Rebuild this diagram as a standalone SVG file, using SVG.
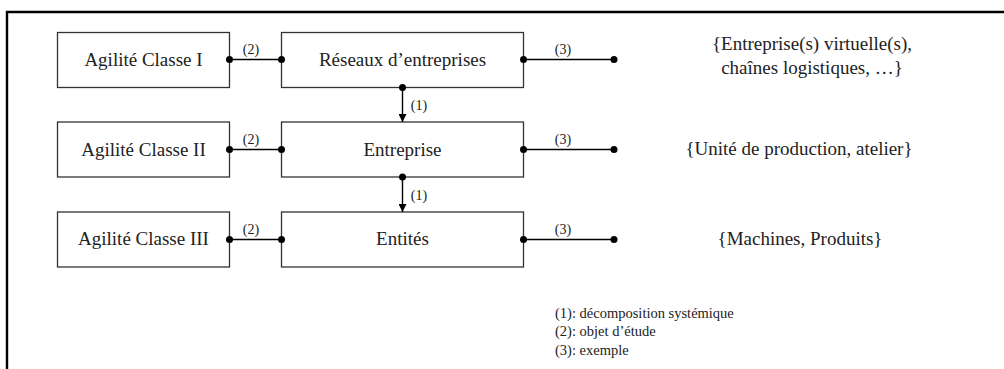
<svg xmlns="http://www.w3.org/2000/svg" width="1004" height="369" viewBox="0 0 1004 369">
<style>
.box{fill:#fff;stroke:#333;stroke-width:1.3}
.t{font-family:"Liberation Serif","Times New Roman",Times,"DejaVu Serif",serif;font-size:19px;fill:#222;text-anchor:middle}
.lbl{font-family:"Liberation Serif","Times New Roman",Times,"DejaVu Serif",serif;font-size:14px;fill:#222;text-anchor:middle}
.leg{font-family:"Liberation Serif","Times New Roman",Times,"DejaVu Serif",serif;font-size:14.5px;fill:#222}
.c{stroke:#000;stroke-width:1.4;fill:none}
.d{fill:#000}
</style>
<defs>
<marker id="ah" viewBox="0 0 8 8" refX="8" refY="4" markerWidth="8" markerHeight="8" markerUnits="userSpaceOnUse" orient="auto">
<path d="M0,0 L8,4 L0,8 z" fill="#000"/>
</marker>
</defs>
<path d="M7,369 V12 H1004" fill="none" stroke="#000" stroke-width="2.4"/>
<g id="n-agI"><rect class="box" x="57.5" y="32.5" width="172" height="55"/><text class="t" x="143.5" y="66">Agilité Classe I</text></g>
<g id="n-reseaux"><rect class="box" x="281.5" y="32.5" width="242" height="55"/><text class="t" x="402.5" y="66">Réseaux d’entreprises</text></g>
<g id="n-agII"><rect class="box" x="57.5" y="122" width="172" height="55"/><text class="t" x="143.5" y="156">Agilité Classe II</text></g>
<g id="n-entreprise"><rect class="box" x="281.5" y="122" width="242" height="55"/><text class="t" x="402.5" y="156">Entreprise</text></g>
<g id="n-agIII"><rect class="box" x="57.5" y="212" width="172" height="55"/><text class="t" x="143.5" y="245">Agilité Classe III</text></g>
<g id="n-entites"><rect class="box" x="281.5" y="212" width="242" height="55"/><text class="t" x="402.5" y="245">Entités</text></g>
<g id="ex1"><text class="t" x="812" y="50">{Entreprise(s) virtuelle(s),</text><text class="t" x="812" y="74">chaînes logistiques, …}</text></g>
<g id="ex2"><text class="t" x="799" y="155">{Unité de production, atelier}</text></g>
<g id="ex3"><text class="t" x="800" y="245">{Machines, Produits}</text></g>
<g id="connectors">
<line class="c" x1="229.5" y1="59.5" x2="281.5" y2="59.5"/>
<circle class="d" cx="229.5" cy="59.5" r="3.5"/><circle class="d" cx="281.5" cy="59.5" r="3.5"/>
<text class="lbl" x="251" y="54">(2)</text>
<line class="c" x1="229.5" y1="149.5" x2="281.5" y2="149.5"/>
<circle class="d" cx="229.5" cy="149.5" r="3.5"/><circle class="d" cx="281.5" cy="149.5" r="3.5"/>
<text class="lbl" x="251" y="144">(2)</text>
<line class="c" x1="229.5" y1="239.5" x2="281.5" y2="239.5"/>
<circle class="d" cx="229.5" cy="239.5" r="3.5"/><circle class="d" cx="281.5" cy="239.5" r="3.5"/>
<text class="lbl" x="251" y="234">(2)</text>
<line class="c" x1="523.5" y1="59.5" x2="614" y2="59.5"/>
<circle class="d" cx="523.5" cy="59.5" r="3.5"/><circle class="d" cx="614" cy="59.5" r="3.5"/>
<text class="lbl" x="563" y="54">(3)</text>
<line class="c" x1="523.5" y1="149.5" x2="614" y2="149.5"/>
<circle class="d" cx="523.5" cy="149.5" r="3.5"/><circle class="d" cx="614" cy="149.5" r="3.5"/>
<text class="lbl" x="563" y="144">(3)</text>
<line class="c" x1="523.5" y1="239.5" x2="614" y2="239.5"/>
<circle class="d" cx="523.5" cy="239.5" r="3.5"/><circle class="d" cx="614" cy="239.5" r="3.5"/>
<text class="lbl" x="563" y="234">(3)</text>
<line class="c" x1="402.5" y1="87.5" x2="402.5" y2="122" marker-end="url(#ah)"/>
<circle class="d" cx="402.5" cy="87.5" r="3.5"/>
<text class="lbl" x="419" y="110">(1)</text>
<line class="c" x1="402.5" y1="177" x2="402.5" y2="212" marker-end="url(#ah)"/>
<circle class="d" cx="402.5" cy="177" r="3.5"/>
<text class="lbl" x="419" y="200">(1)</text>
</g>
<g id="legend">
<text class="leg" x="555" y="318">(1): décomposition systémique</text>
<text class="leg" x="555" y="336">(2): objet d’étude</text>
<text class="leg" x="555" y="355">(3): exemple</text>
</g>
</svg>
